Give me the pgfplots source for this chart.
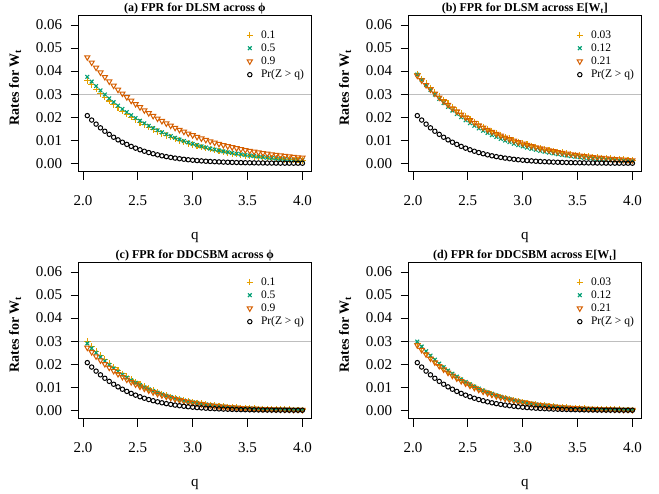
\documentclass[border=0pt]{standalone}
\usepackage{fontspec}
\setmainfont{Liberation Serif}
\usepackage{pgfplots}
\usepackage{pgfplotstable}
\pgfplotsset{compat=1.18}
\definecolor{cP}{HTML}{E69F00}
\definecolor{cX}{HTML}{009E73}
\definecolor{cT}{HTML}{D55E00}
\definecolor{gline}{HTML}{BEBEBE}

\pgfplotstableread{
q z ap ax at bp bx bt cp cx ct dp dx dt
2.04 .02068 .03600 .03750 .04600 .03880 .03850 .03800 .02980 .02900 .02720 .02880 .02980 .02820
2.08 .01876 .03403 .03545 .04371 .03668 .03614 .03592 .02766 .02692 .02524 .02673 .02766 .02617
2.12 .01700 .03215 .03349 .04152 .03465 .03391 .03394 .02564 .02495 .02340 .02478 .02564 .02426
2.16 .01539 .03036 .03163 .03943 .03272 .03179 .03205 .02374 .02310 .02167 .02294 .02374 .02247
2.20 .01390 .02866 .02985 .03743 .03089 .02980 .03025 .02196 .02137 .02004 .02122 .02196 .02078
2.24 .01255 .02703 .02816 .03551 .02914 .02791 .02854 .02028 .01974 .01851 .01960 .02028 .01919
2.28 .01130 .02549 .02655 .03368 .02747 .02614 .02691 .01871 .01821 .01708 .01808 .01871 .01771
2.32 .01017 .02402 .02502 .03193 .02589 .02446 .02536 .01724 .01678 .01574 .01667 .01724 .01632
2.36 .00914 .02263 .02357 .03026 .02439 .02288 .02388 .01587 .01545 .01449 .01534 .01587 .01502
2.40 .00820 .02130 .02219 .02867 .02296 .02139 .02248 .01459 .01420 .01332 .01410 .01459 .01381
2.44 .00734 .02004 .02088 .02715 .02160 .01998 .02116 .01340 .01304 .01223 .01295 .01340 .01268
2.48 .00657 .01885 .01964 .02570 .02032 .01866 .01990 .01229 .01196 .01122 .01188 .01229 .01163
2.52 .00587 .01772 .01846 .02432 .01910 .01742 .01870 .01126 .01096 .01028 .01088 .01126 .01066
2.56 .00523 .01665 .01734 .02301 .01794 .01625 .01757 .01030 .01003 .00940 .00996 .01030 .00975
2.60 .00466 .01563 .01628 .02175 .01685 .01515 .01650 .00942 .00916 .00859 .00910 .00942 .00891
2.64 .00415 .01467 .01528 .02056 .01581 .01412 .01549 .00860 .00837 .00785 .00831 .00860 .00813
2.68 .00368 .01376 .01434 .01943 .01483 .01315 .01453 .00784 .00763 .00715 .00757 .00784 .00742
2.72 .00326 .01290 .01344 .01835 .01391 .01225 .01362 .00714 .00695 .00652 .00690 .00714 .00675
2.76 .00289 .01209 .01260 .01732 .01303 .01140 .01276 .00649 .00632 .00593 .00627 .00649 .00614
2.80 .00256 .01133 .01180 .01635 .01221 .01060 .01196 .00590 .00574 .00538 .00570 .00590 .00558
2.84 .00226 .01060 .01104 .01542 .01143 .00985 .01119 .00535 .00521 .00489 .00517 .00535 .00507
2.88 .00199 .00992 .01033 .01454 .01069 .00915 .01047 .00485 .00472 .00443 .00469 .00485 .00459
2.92 .00175 .00928 .00966 .01371 .01000 .00850 .00979 .00439 .00427 .00401 .00425 .00439 .00416
2.96 .00154 .00867 .00903 .01292 .00935 .00789 .00915 .00397 .00387 .00363 .00384 .00397 .00376
3.00 .00135 .00810 .00844 .01217 .00873 .00732 .00855 .00359 .00349 .00327 .00347 .00359 .00339
3.04 .00118 .00756 .00788 .01146 .00815 .00679 .00798 .00324 .00315 .00295 .00313 .00324 .00306
3.08 .00104 .00706 .00735 .01078 .00761 .00629 .00745 .00292 .00284 .00266 .00282 .00292 .00276
3.12 .00090 .00659 .00686 .01015 .00710 .00583 .00695 .00262 .00255 .00240 .00254 .00262 .00248
3.16 .00079 .00614 .00640 .00954 .00662 .00539 .00648 .00236 .00230 .00215 .00228 .00236 .00223
3.20 .00069 .00572 .00596 .00897 .00617 .00499 .00604 .00212 .00206 .00193 .00205 .00212 .00200
3.24 .00060 .00533 .00555 .00843 .00574 .00462 .00562 .00190 .00185 .00173 .00184 .00190 .00180
3.28 .00052 .00496 .00517 .00792 .00535 .00427 .00524 .00170 .00166 .00155 .00164 .00170 .00161
3.32 .00045 .00462 .00481 .00744 .00497 .00394 .00487 .00152 .00148 .00139 .00147 .00152 .00144
3.36 .00039 .00429 .00447 .00698 .00463 .00364 .00453 .00136 .00132 .00124 .00131 .00136 .00129
3.40 .00034 .00399 .00416 .00655 .00430 .00336 .00421 .00121 .00118 .00111 .00117 .00121 .00115
3.44 .00029 .00371 .00386 .00614 .00399 .00310 .00391 .00108 .00105 .00099 .00105 .00108 .00102
3.48 .00025 .00344 .00358 .00576 .00371 .00286 .00363 .00096 .00094 .00088 .00093 .00096 .00091
3.52 .00022 .00319 .00333 .00540 .00344 .00263 .00337 .00086 .00083 .00078 .00083 .00086 .00081
3.56 .00019 .00296 .00309 .00506 .00319 .00243 .00313 .00076 .00074 .00070 .00074 .00076 .00072
3.60 .00016 .00275 .00286 .00474 .00296 .00223 .00290 .00068 .00066 .00062 .00065 .00068 .00064
3.64 .00014 .00254 .00265 .00443 .00274 .00205 .00269 .00060 .00058 .00055 .00058 .00060 .00057
3.68 .00012 .00236 .00245 .00415 .00254 .00189 .00249 .00053 .00052 .00048 .00051 .00053 .00050
3.72 .00010 .00218 .00227 .00388 .00235 .00174 .00230 .00047 .00046 .00043 .00045 .00047 .00044
3.76 .00008 .00202 .00210 .00363 .00218 .00160 .00213 .00041 .00040 .00038 .00040 .00041 .00039
3.80 .00007 .00187 .00194 .00339 .00201 .00147 .00197 .00037 .00036 .00033 .00035 .00037 .00035
3.84 .00006 .00172 .00180 .00317 .00186 .00134 .00182 .00032 .00031 .00029 .00031 .00032 .00030
3.88 .00005 .00159 .00166 .00296 .00172 .00123 .00168 .00028 .00028 .00026 .00027 .00028 .00027
3.92 .00004 .00147 .00153 .00276 .00159 .00113 .00155 .00025 .00024 .00023 .00024 .00025 .00024
3.96 .00004 .00136 .00141 .00258 .00146 .00104 .00143 .00022 .00021 .00020 .00021 .00022 .00021
4.00 .00003 .00125 .00130 .00241 .00135 .00095 .00132 .00019 .00019 .00017 .00019 .00019 .00018
}\data

\pgfplotsset{
  panel/.style={
    scale only axis, width=232.3pt, height=156pt,
    xmin=1.9616, xmax=4.0784, ymin=-0.00364, ymax=0.06403,
    xtick={2,2.5,3,3.5,4}, xticklabels={2.0,2.5,3.0,3.5,4.0},
    ytick={0,0.01,0.02,0.03,0.04,0.05,0.06},
    yticklabels={0.00,0.01,0.02,0.03,0.04,0.05,0.06},
    scaled y ticks=false, scaled x ticks=false,
    tick align=outside, major tick length=8pt,
    xtick pos=bottom, ytick pos=left,
    tick style={black, line width=0.8pt},
    axis line style={line width=0.8pt},
    ticklabel style={font=\fontsize{15}{18}\selectfont},
    xticklabel style={yshift=-12pt},
    yticklabel style={xshift=-5pt},
    every axis title/.style={at={(axis description cs:0.5,1.027)}, anchor=base, font=\bfseries\fontsize{12}{14}\selectfont},
    xlabel style={at={(axis description cs:0.5,-0.42)}, anchor=center, font=\fontsize{15}{18}\selectfont},
    ylabel style={at={(axis description cs:-0.274,0.54)}, anchor=center, font=\bfseries\fontsize{14}{17}\selectfont},
    xlabel={q}, ylabel={Rates for W\textsubscript{t}},
    legend style={at={(axis description cs:0.709,0.932)}, anchor=north west, draw=none, fill=none,
      font=\fontsize{11.5}{13}\selectfont, row sep=0pt, column sep=6pt},
    legend cell align=left,
  },
  sP/.style={only marks, mark=+, cP, mark size=3.2pt, line width=1.1pt},
  sX/.style={only marks, mark=x, cX, mark size=2.6pt, line width=1.1pt},
  sT/.style={only marks, mark=triangle, mark options={rotate=180}, cT, mark size=3.0pt, line width=1pt},
  sZ/.style={only marks, mark=o, black, mark size=2.2pt, line width=1pt},
}

\begin{document}
\begin{tikzpicture}
\useasboundingbox (0,0) rectangle (659pt,494pt);

\begin{axis}[panel, at={(78.7pt,322.3pt)}, anchor=south west,
  title={(a) FPR for DLSM across ϕ}]
\addplot[gline, line width=0.8pt, forget plot] coordinates {(1.9616,0.03) (4.0784,0.03)};
\addplot[sP] table[x=q,y=ap]{\data};
\addplot[sX] table[x=q,y=ax]{\data};
\addplot[sT] table[x=q,y=at]{\data};
\addplot[sZ] table[x=q,y=z]{\data};
\legend{0.1,0.5,0.9,Pr(Z > q)}
\end{axis}

\begin{axis}[panel, at={(408.7pt,322.3pt)}, anchor=south west,
  title={(b) FPR for DLSM across E[W\textsubscript{t}]}]
\addplot[gline, line width=0.8pt, forget plot] coordinates {(1.9616,0.03) (4.0784,0.03)};
\addplot[sP] table[x=q,y=bp]{\data};
\addplot[sX] table[x=q,y=bx]{\data};
\addplot[sT] table[x=q,y=bt]{\data};
\addplot[sZ] table[x=q,y=z]{\data};
\legend{0.03,0.12,0.21,Pr(Z > q)}
\end{axis}

\begin{axis}[panel, at={(78.7pt,75.3pt)}, anchor=south west,
  title={(c) FPR for DDCSBM across ϕ}]
\addplot[gline, line width=0.8pt, forget plot] coordinates {(1.9616,0.03) (4.0784,0.03)};
\addplot[sP] table[x=q,y=cp]{\data};
\addplot[sX] table[x=q,y=cx]{\data};
\addplot[sT] table[x=q,y=ct]{\data};
\addplot[sZ] table[x=q,y=z]{\data};
\legend{0.1,0.5,0.9,Pr(Z > q)}
\end{axis}

\begin{axis}[panel, at={(408.7pt,75.3pt)}, anchor=south west,
  title={(d) FPR for DDCSBM across E[W\textsubscript{t}]}]
\addplot[gline, line width=0.8pt, forget plot] coordinates {(1.9616,0.03) (4.0784,0.03)};
\addplot[sP] table[x=q,y=dp]{\data};
\addplot[sX] table[x=q,y=dx]{\data};
\addplot[sT] table[x=q,y=dt]{\data};
\addplot[sZ] table[x=q,y=z]{\data};
\legend{0.03,0.12,0.21,Pr(Z > q)}
\end{axis}
\end{tikzpicture}
\end{document}
